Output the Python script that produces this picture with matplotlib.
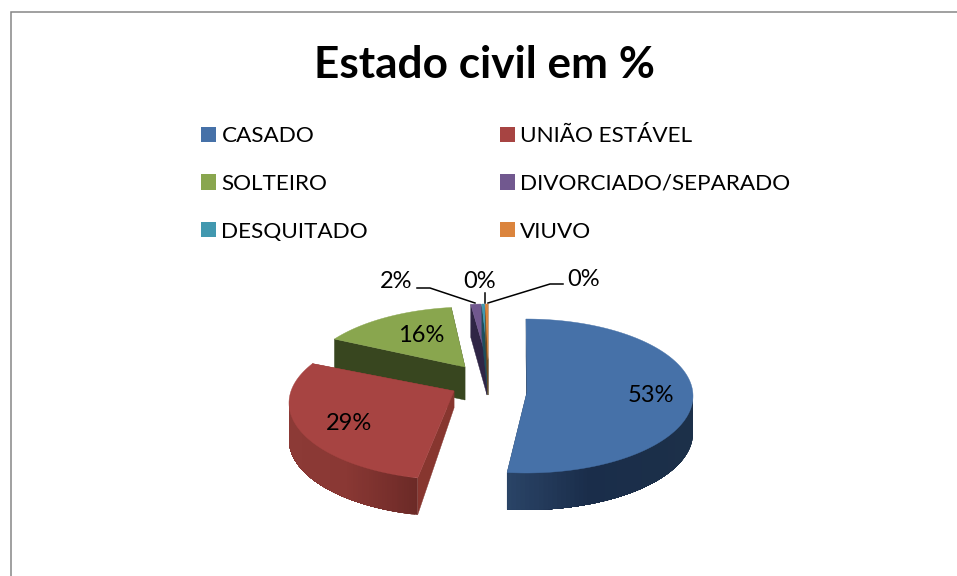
import numpy as np
import matplotlib
matplotlib.use("Agg")
import matplotlib.pyplot as plt
from matplotlib.patches import Polygon, Patch

# ---- data ----
title = "Estado civil em %"
categories = ["CASADO", "UNIÃO ESTÁVEL", "SOLTEIRO", "DIVORCIADO/SEPARADO", "DESQUITADO", "VIUVO"]
values = [53, 29, 16, 2, 0.4, 0.4]
colors = ["#4671A8", "#A74442", "#89A64E", "#71588F", "#4198AF", "#DB843D"]

# ---- layout of the exploded slices (pixels) ----
ell_center = [(526, 396), (456, 403), (470, 384), (486, 381), (487, 381), (488, 381)]
apex = [(527, 392), (454, 391), (465, 367), (487, 360), (488, 360), (488, 360)]
depth = [37, 37, 33, 33, 33, 33]
apex_depth = [37, 17, 33, 35, 35, 35]
# perspective correction of each slice's start and end angle (degrees)
nudge = [(0, -0.7), (-7.5, 0), (-5, 0.2), (-1, 0), (0, 0), (0, 0)]
radial_wall = ["#1F3552", "#87362F", "#38461F", "#2F2545", "#1F4E5C", "#6E4A20"]
wall_stops = [("#2B4568", "#1A2D4A", "#1C3049"), ("#8C3A36", "#8A3834", "#6C2A27"),
              ("#38461F",) * 3, ("#2F2545",) * 3, ("#1F4E5C",) * 3, ("#6E4A20",) * 3]
RX, RY = 167, 77

plt.rcParams["font.family"] = ["Lato", "DejaVu Sans"]
fig = plt.figure(figsize=(9.57, 5.76), dpi=100, facecolor="white")
ax = fig.add_axes([0, 0, 1, 1])
ax.set_xlim(0, 957)
ax.set_ylim(576, 0)
ax.axis("off")

# chart frame
ax.plot([11, 11, 957], [576, 12, 12], color="#868686", lw=1.1, solid_joinstyle="miter", zorder=1)


def warp(theta):
    return theta - 11 * np.sin(np.radians(2 * (theta - 90)))


def hex_rgb(c):
    return np.array(matplotlib.colors.to_rgb(c))


total = sum(values)
edges = 90 - 360 * np.cumsum([0] + values) / total
paint_order = [2, 3, 4, 5, 1, 0]
for z, i in enumerate(paint_order):
    t0 = warp(edges[i]) + nudge[i][0]
    t1 = warp(edges[i + 1]) + nudge[i][1]
    t = np.linspace(t0, t1, 120)
    cx, cy = ell_center[i]
    ax_, ay_ = apex[i]
    px = cx + RX * np.cos(np.radians(t))
    py = cy - RY * np.sin(np.radians(t))
    base = 10 + z * 5
    d, ad = depth[i], apex_depth[i]
    # radial side walls
    for k in (0, -1):
        ax.add_patch(Polygon([(ax_, ay_), (px[k], py[k]), (px[k], py[k] + d), (ax_, ay_ + ad)],
                             closed=True, fc=radial_wall[i], ec=radial_wall[i], lw=0.3, zorder=base))
    # outer wall, shaded across its width: each strip runs on to the end of the
    # wall and the next one is painted over it, so no seams show
    s = wall_stops[i]
    idx = [j for j in range(len(t)) if np.sin(np.radians(t[j])) < 0.02]
    if len(idx) > 1:
        for n, j in enumerate(idx[:-1]):
            f = (px[j] - px.min()) / max(px.max() - px.min(), 1)
            rgb = np.interp(f, [0, 0.45, 1], [0, 1, 2])
            lo = int(min(rgb, 1))
            col = hex_rgb(s[lo]) + (rgb - lo) * (hex_rgb(s[lo + 1]) - hex_rgb(s[lo]))
            rest = idx[n:]
            ring = [(px[q], py[q]) for q in rest] + [(px[q], py[q] + d) for q in rest[::-1]]
            ax.add_patch(Polygon(ring, closed=True, fc=col, ec="none", zorder=base + 1))
    # top face
    ax.add_patch(Polygon(np.column_stack([np.r_[ax_, px], np.r_[ay_, py]]), closed=True,
                         fc=colors[i], ec=colors[i], lw=0.3, zorder=base + 2))

# data labels
label_xy = [(651, 396), (349, 424), (421, 336), (396, 282), (480, 281), (584, 279)]
for v, (x, y) in zip(values, label_xy):
    ax.text(x, y, f"{v:.0f}%", ha="center", va="center", fontsize=17, color="black", zorder=60)

# leader lines
leaders = [([417, 430, 475], [288, 288, 303]),
           ([485, 485], [293, 303]),
           ([563, 550, 488], [284, 284, 303])]
for lx, ly in leaders:
    ax.plot(lx, ly, color="black", lw=1.1, zorder=55)

# title
ax.text(485, 65, title, ha="center", va="center", fontsize=31.8, fontweight="bold", color="black")

# legend (column-first order)
order = [0, 2, 4, 1, 3, 5]
handles = [Patch(fc=colors[i], ec="none", label=categories[i]) for i in order]
ax.legend(handles=handles, ncol=2, frameon=False, loc="upper left",
          bbox_to_anchor=(201 / 957, 1 - 126 / 576), borderpad=0, borderaxespad=0,
          fontsize=16.2, handlelength=0.66, handleheight=0.66, handletextpad=0.25,
          labelspacing=1.24, columnspacing=5.85)

fig.savefig("out.png", dpi=100, facecolor="white")
